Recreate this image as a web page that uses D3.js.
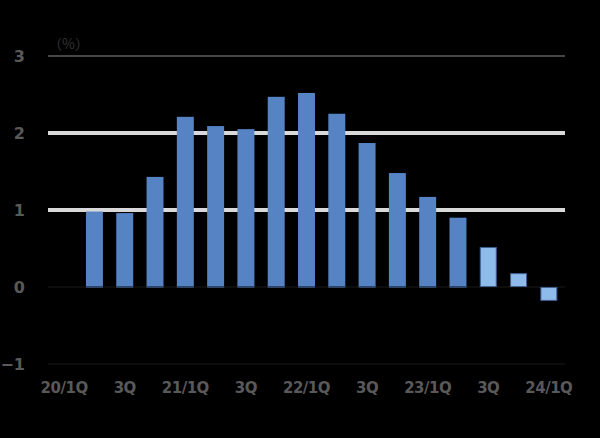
<!DOCTYPE html>
<html>
<head>
<meta charset="utf-8">
<script src="https://cdn.jsdelivr.net/npm/d3@7"></script>
<style>
  body { margin: 0; background: #000; }
  svg { display: block; }
</style>
</head>
<body>
<div id="chart"></div>
<script>
// quarters on the x axis, values in %
var quarters = ["20/1Q","20/2Q","20/3Q","20/4Q","21/1Q","21/2Q","21/3Q","21/4Q",
                "22/1Q","22/2Q","22/3Q","22/4Q","23/1Q","23/2Q","23/3Q","23/4Q","24/1Q"];
var tickLabels = ["20/1Q","3Q","21/1Q","3Q","22/1Q","3Q","23/1Q","3Q","24/1Q"];
var actualQ = ["20/2Q","20/3Q","20/4Q","21/1Q","21/2Q","21/3Q","21/4Q",
               "22/1Q","22/2Q","22/3Q","22/4Q","23/1Q","23/2Q"];
var actualV = [0.98, 0.96, 1.43, 2.21, 2.09, 2.05, 2.47, 2.52, 2.25, 1.87, 1.48, 1.17, 0.90];
var forecastQ = ["23/3Q","23/4Q","24/1Q"];
var forecastV = [0.52, 0.18, -0.18];
var yTicks = [-1, 0, 1, 2, 3];

var W = 600, H = 438;
var svg = d3.select("#chart").append("svg").attr("width", W).attr("height", H);
svg.append("rect").attr("width", W).attr("height", H).attr("fill", "#000");

var x = d3.scaleBand().domain(quarters).range([49, 564]).paddingInner(0.44).paddingOuter(0.22);
var y = d3.scaleLinear().domain([-1, 3]).range([364, 56]);

// grid lines
svg.selectAll(".grid").data(yTicks).enter().append("line")
  .attr("x1", 48).attr("x2", 565)
  .attr("y1", function(d) { return y(d); }).attr("y2", function(d) { return y(d); })
  .attr("stroke", function(d) { return d == 1 || d == 2 ? "#d9d9d9" : (d == 3 ? "#8c8c8c" : "#1a1a1a"); })
  .attr("stroke-width", function(d) { return d == 1 || d == 2 ? 4 : 1; });

// actual bars
svg.selectAll(".bar").data(actualV).enter().append("rect")
  .attr("x", function(d, i) { return x(actualQ[i]); })
  .attr("width", x.bandwidth())
  .attr("y", function(d) { return y(Math.max(0, d)); })
  .attr("height", function(d) { return Math.abs(y(d) - y(0)); })
  .attr("fill", "#5683c4");

svg.selectAll(".shadow").data(actualV).enter().append("rect")
  .attr("x", function(d, i) { return x(actualQ[i]); })
  .attr("width", x.bandwidth())
  .attr("y", y(0) - 1).attr("height", 2)
  .attr("fill", "#2d4466");

// forecast bars
svg.selectAll(".fbar").data(forecastV).enter().append("rect")
  .attr("x", function(d, i) { return x(forecastQ[i]) + 0.5; })
  .attr("width", x.bandwidth() - 1)
  .attr("y", function(d) { return y(Math.max(0, d)) + 0.5; })
  .attr("height", function(d) { return Math.abs(y(d) - y(0)) - 1; })
  .attr("fill", "#8fbbea")
  .attr("stroke", "#3f5f8f").attr("stroke-width", 1);

// y labels
svg.selectAll(".ylab").data(yTicks).enter().append("text")
  .attr("x", 25).attr("y", function(d) { return y(d) + 6; })
  .attr("text-anchor", "end")
  .attr("font-family", "DejaVu Sans, sans-serif")
  .attr("font-weight", "bold").attr("font-size", "16px")
  .attr("fill", "#595959")
  .text(function(d) { return d < 0 ? "\u2212" + Math.abs(d) : d; });

// x labels, every second quarter
svg.selectAll(".xlab").data(tickLabels).enter().append("text")
  .attr("x", function(d, i) { return x(quarters[i * 2]) + x.bandwidth() / 2; })
  .attr("y", 393)
  .attr("text-anchor", "middle")
  .attr("font-family", "DejaVu Sans, sans-serif")
  .attr("font-weight", "bold").attr("font-size", "15px")
  .attr("letter-spacing", "-0.5")
  .attr("fill", "#595959")
  .text(function(d) { return d; });

// unit
svg.append("text")
  .attr("x", 48).attr("y", 49)
  .attr("font-family", "Noto Sans CJK JP, sans-serif")
  .attr("font-size", "14px")
  .attr("fill", "#333")
  .text("（%）");
</script>
</body>
</html>
